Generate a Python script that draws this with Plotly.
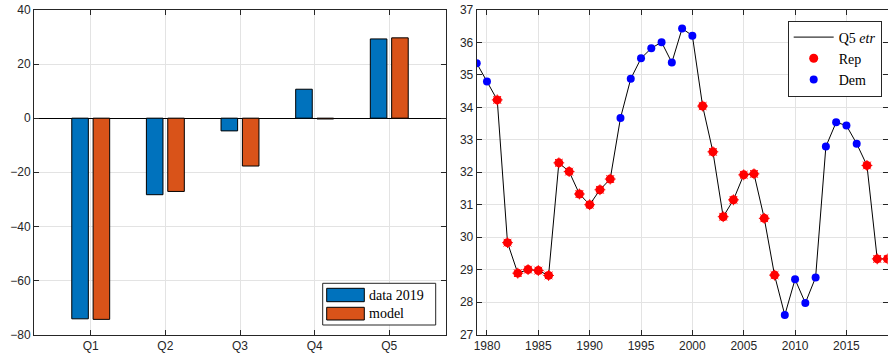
import plotly.graph_objects as go

# ---- Left panel data ----
quintiles = ["Q1", "Q2", "Q3", "Q4", "Q5"]
data_2019 = [-74.2, -28.3, -4.7, 10.7, 29.3]
model_vals = [-74.4, -27.1, -17.7, -0.3, 29.7]
bar_names = ["data 2019", "model"]

# ---- Right panel data ----
years = list(range(1979, 2020))
q5_etr = [35.36, 34.80, 34.23, 29.83, 28.89, 29.00, 28.97, 28.82, 32.29, 32.02,
          31.33, 31.00, 31.46, 31.79, 33.67, 34.88, 35.51, 35.82, 36.01, 35.38,
          36.43, 36.21, 34.04, 32.63, 30.63, 31.15, 31.92, 31.95, 30.58, 28.83,
          27.60, 28.70, 27.97, 28.76, 32.79, 33.54, 33.44, 32.88, 32.21, 29.33, 29.33]
party = (["D"] * 2 + ["R"] * 12 + ["D"] * 8 + ["R"] * 8 + ["D"] * 8 + ["R"] * 3)

rep_x = [y for y, p in zip(years, party) if p == "R"]
rep_y = [v for v, p in zip(q5_etr, party) if p == "R"]
dem_x = [y for y, p in zip(years, party) if p == "D"]
dem_y = [v for v, p in zip(q5_etr, party) if p == "D"]

BLUE = "#0072BD"
ORANGE = "#D95319"
AX = "#262626"
GRID = "#e3e3e3"
SANS = "Liberation Sans, Arial, sans-serif"
SERIF = "Liberation Serif, Times New Roman, serif"

W, H = 888, 360


def px(x):
    return x / W


def py(y):
    return 1 - y / H


fig = go.Figure()

cat_x = [1, 2, 3, 4, 5]
fig.add_trace(go.Bar(x=cat_x, y=data_2019, name=bar_names[0], width=0.222, offset=-0.254,
                     marker=dict(color=BLUE, line=dict(color="black", width=1)),
                     xaxis="x", yaxis="y", showlegend=False))
fig.add_trace(go.Bar(x=cat_x, y=model_vals, name=bar_names[1], width=0.222, offset=0.032,
                     marker=dict(color=ORANGE, line=dict(color="black", width=1)),
                     xaxis="x", yaxis="y", showlegend=False))

fig.add_trace(go.Scatter(x=years, y=q5_etr, mode="lines", name="Q5 <i>etr</i>",
                         line=dict(color="black", width=1),
                         xaxis="x2", yaxis="y2"))
fig.add_trace(go.Scatter(x=rep_x, y=rep_y, mode="markers", name="Rep",
                         marker=dict(symbol="circle", size=9, color="#ff0000",
                                     line=dict(width=0, color="#ff0000")),
                         xaxis="x2", yaxis="y2"))
fig.add_trace(go.Scatter(x=rep_x, y=rep_y, mode="markers", showlegend=False,
                         marker=dict(symbol="asterisk-open", size=9, color="#ff0000",
                                     line=dict(color="#ff0000", width=1)),
                         xaxis="x2", yaxis="y2", hoverinfo="skip"))
fig.add_trace(go.Scatter(x=dem_x, y=dem_y, mode="markers", name="Dem",
                         marker=dict(symbol="circle", size=8, color="#0000ff",
                                     line=dict(width=0, color="#0000ff")),
                         xaxis="x2", yaxis="y2"))

ydom = [py(334.5), py(10)]
axis_common = dict(showline=True, linecolor=AX, linewidth=1, mirror="ticks",
                   ticks="inside", ticklen=5, tickcolor=AX, showgrid=True,
                   gridcolor=GRID, gridwidth=1, automargin=False,
                   ticklabeloverflow="allow",
                   tickfont=dict(family=SANS, size=12, color=AX))

# manual legend for the bar panel (wide MATLAB-style swatches)
shapes = [
    dict(type="rect", xref="paper", yref="paper", x0=px(322.7), x1=px(435.7),
         y0=py(325), y1=py(283.3), fillcolor="white", line=dict(color=AX, width=1),
         layer="above"),
    dict(type="rect", xref="paper", yref="paper", x0=px(326.7), x1=px(364.3),
         y0=py(301.7), y1=py(288.3), fillcolor=BLUE, line=dict(color="black", width=1),
         layer="above"),
    dict(type="rect", xref="paper", yref="paper", x0=px(326.7), x1=px(364.3),
         y0=py(320), y1=py(307.3), fillcolor=ORANGE, line=dict(color="black", width=1),
         layer="above"),
]
annotations = [
    dict(xref="paper", yref="paper", x=px(366.5), y=py(295), text=bar_names[0],
         showarrow=False, xanchor="left", yanchor="middle",
         font=dict(family=SERIF, size=14, color="black")),
    dict(xref="paper", yref="paper", x=px(366.5), y=py(313.7), text=bar_names[1],
         showarrow=False, xanchor="left", yanchor="middle",
         font=dict(family=SERIF, size=14, color="black")),
]

fig.update_layout(
    width=W, height=H,
    margin=dict(l=0, r=0, t=0, b=0, pad=0),
    paper_bgcolor="white", plot_bgcolor="white",
    barmode="overlay",
    xaxis=dict(domain=[px(34), px(446)], range=[0.24, 5.76], tickvals=cat_x,
               ticktext=quintiles, zeroline=False, anchor="y", **axis_common),
    yaxis=dict(domain=ydom, range=[-80, 40], dtick=20, zeroline=True,
               zerolinecolor="black", zerolinewidth=1, anchor="x", **axis_common),
    xaxis2=dict(domain=[px(476.7), px(887.5)], range=[1979, 2019],
                tickvals=[1980, 1985, 1990, 1995, 2000, 2005, 2010, 2015],
                zeroline=False, anchor="y2", **axis_common),
    yaxis2=dict(domain=ydom, range=[27, 37], dtick=1, zeroline=False,
                anchor="x2", **axis_common),
    legend=dict(x=px(881.7), y=py(20.5), xanchor="right", yanchor="top",
                bgcolor="white", bordercolor=AX, borderwidth=1, itemwidth=40,
                font=dict(family=SERIF, size=14, color="black"),
                tracegroupgap=0),
    shapes=shapes,
    annotations=annotations,
    showlegend=True,
)

fig.write_html("out.html", config={"displayModeBar": False},
               post_script="document.body.style.margin='0';")
